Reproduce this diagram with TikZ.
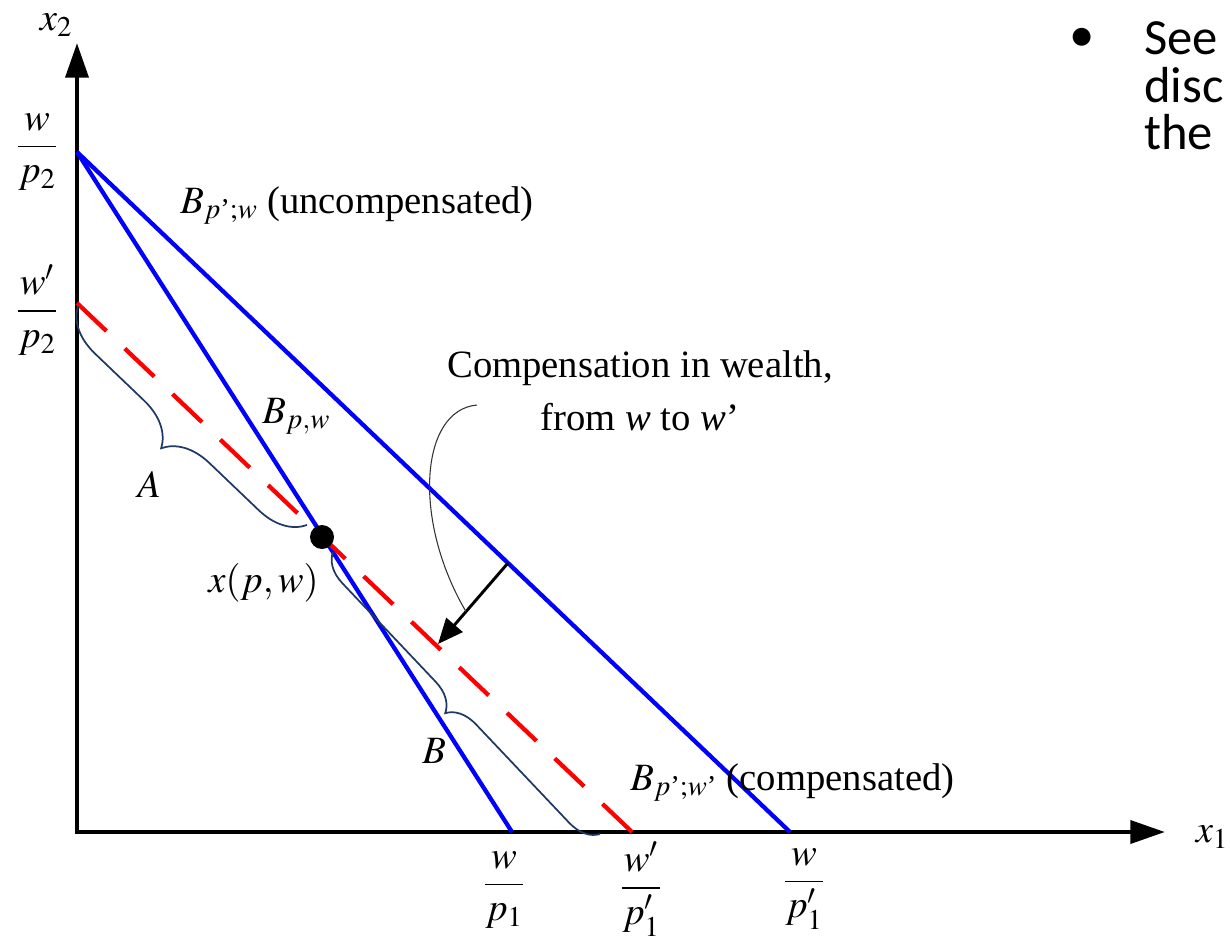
\documentclass[tikz,border=0pt]{standalone}
\usepackage{amsmath}
\usepackage{mathptmx}
\usepackage{fontspec}
\setmainfont{Liberation Serif}
\newfontfamily\calibri{Carlito}
\usetikzlibrary{arrows.meta,decorations.pathreplacing}
\definecolor{bblue}{RGB}{0,0,255}
\definecolor{rred}{RGB}{255,0,0}
\definecolor{navy}{RGB}{31,56,100}
\begin{document}
\begin{tikzpicture}[x=0.75pt,y=-0.75pt,
  every node/.style={font=\fontsize{29}{35}\selectfont, inner sep=0pt},
  axisline/.style={line width=3.5pt, -{Triangle[length=26pt,width=17pt]}},
  budget/.style={draw=bblue, line width=3.2pt},
  comp/.style={draw=rred, line width=3.2pt, dash pattern=on 30.5pt off 19pt},
  bracepath/.style={draw=navy, line width=1.3pt, decorate, decoration={brace, amplitude=#1}},
  shiftarrow/.style={line width=2.2pt, -{Triangle[length=19pt,width=16pt]}},
  pointer/.style={draw=black!80, line width=0.8pt},
  bullettext/.style={font=\calibri\fontsize{38}{38}\selectfont, anchor=base west}]
\useasboundingbox (0,0) rectangle (1230,942);
% key points
\coordinate (O) at (77,832);
\coordinate (ytop) at (77,43);
\coordinate (xend) at (1165,832);
\coordinate (Yw) at (77,152);
\coordinate (Ywp) at (77,303);
\coordinate (Xw) at (512,832);
\coordinate (Xwp) at (632,832);
\coordinate (Xwpp) at (790,832);
% axes
\draw[axisline] (77,834) -- (ytop);
\draw[axisline] (75,832) -- (xend);
\node (lx2) at (56,25) {$x_2$};
\node (lx1) at (1212,837) {$x_1$};
% budget lines
\draw[budget] (Yw) -- (Xw);
\draw[budget] (Yw) -- (Xwpp);
\draw[comp] (Ywp) -- (Xwp);
% braces
\coordinate (Aend) at (307,525);
\coordinate (Astart) at (78,306);
\draw[bracepath=34pt] (Aend) -- (Astart);
\coordinate (Bend) at (600,834);
\coordinate (Bstart) at (333,552);
\draw[bracepath=22pt] (Bend) -- (Bstart);
% compensation arrow
\coordinate (ah) at (508,563);
\coordinate (at) at (438,644);
\draw[shiftarrow] (ah) -- (at);
\path (ah) -- (at) coordinate[pos=0.6] (amid);
\coordinate (cstart) at (477,405);
\draw[pointer] (cstart) .. controls (420,410) and (412,520) .. (amid);
% bundle
\node[circle, fill=black, minimum size=18pt] (xpw) at (322,537) {};
% axis labels
\node (fw2) at (37,152) {$\dfrac{w}{p_2}$};
\node (fwp2) at (37,310) {$\dfrac{w'}{p_2}$};
\node (fw1) at (504,890) {$\dfrac{w}{p_1}$};
\node (fwp1) at (641,889) {$\dfrac{w'}{p'_1}$};
\node (fwpp1) at (804,889) {$\dfrac{w}{p'_1}$};
% line labels
\node[anchor=base west] (lunc) at (180,213) {$B_{p\text{’};w}$ (uncompensated)};
\node[anchor=base west] (lpw) at (262,423) {$B_{p,w}$};
\node[anchor=base west] (lcomp) at (630,790) {$B_{p\text{’};w\text{’}}$ (compensated)};
\node[anchor=base west] (lA) at (137,497) {$A$};
\node[anchor=base west] (lB) at (422,763) {$B$};
\node[anchor=base west] (lx) at (208,592) {$x(p,w)$};
\node[anchor=base] (c1) at (640,377) {Compensation in wealth,};
\node[anchor=base] (c2) at (640,430) {from \textit{w} to \textit{w}’};
% side text
\node[font=\calibri\fontsize{38}{38}\selectfont, anchor=base] (bul) at (1082,51) {•};
\node[bullettext] (t1) at (1144,55) {See};
\node[bullettext] (t2) at (1144,102) {disc};
\node[bullettext] (t3) at (1144,149) {the};
\end{tikzpicture}
\end{document}
